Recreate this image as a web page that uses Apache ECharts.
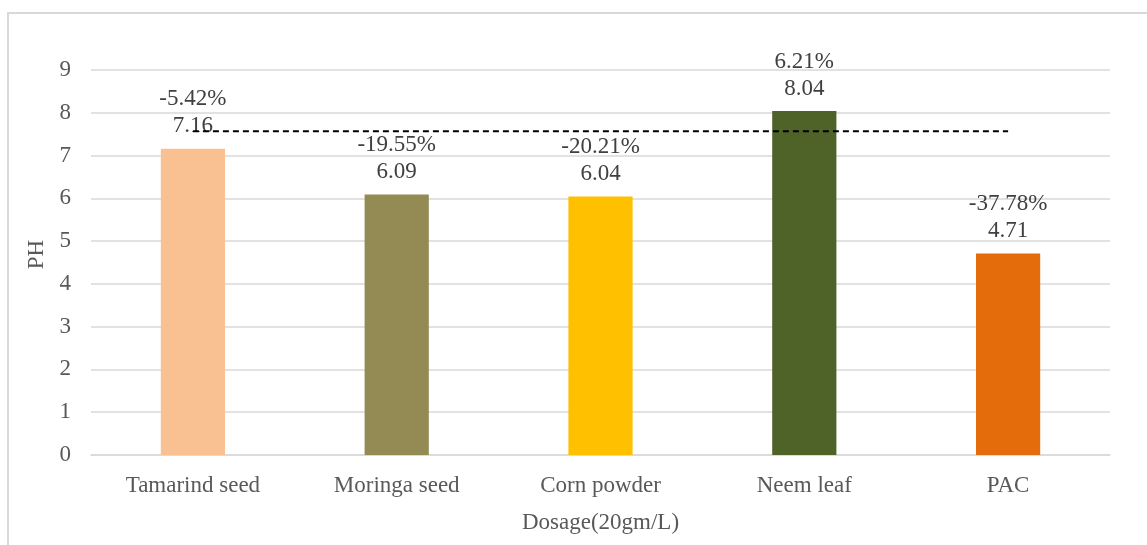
<!DOCTYPE html>
<html>
<head>
<meta charset="utf-8">
<script src="https://cdn.jsdelivr.net/npm/echarts@6/dist/echarts.min.js"></script>
<style>
  html, body { margin: 0; padding: 0; background: #ffffff; }
  #chart { width: 1147px; height: 545px; }
</style>
</head>
<body>
<div id="chart"></div>
<script>
// Coagulant types tested at a dosage of 20 gm/L
const categories = ['Tamarind seed', 'Moringa seed', 'Corn powder', 'Neem leaf', 'PAC'];
// Final pH after treatment
const phValues = [7.16, 6.09, 6.04, 8.04, 4.71];
// Change relative to the untreated water pH
const changePct = ['-5.42%', '-19.55%', '-20.21%', '6.21%', '-37.78%'];
// Initial (raw water) pH shown as the dashed reference
const initialPH = 7.57;
const barColors = ['#F9C191', '#948A54', '#FFC000', '#4F6228', '#E46C0A'];
const yTicks = { min: 0, max: 9, interval: 1 };

const font = 'Liberation Serif, Times New Roman, serif';
const chart = echarts.init(document.getElementById('chart'));

chart.setOption({
  backgroundColor: '#ffffff',
  animation: false,
  graphic: [{
    type: 'rect',
    shape: { x: 8, y: 13, width: 1200, height: 600 },
    style: { fill: 'none', stroke: '#d9d9d9', lineWidth: 2 },
    silent: true
  }],
  grid: { left: 91, right: 37, top: 70, bottom: 90 },
  xAxis: {
    type: 'category',
    data: categories,
    name: 'Dosage(20gm/L)',
    nameLocation: 'middle',
    nameGap: 56,
    nameTextStyle: { fontFamily: font, fontSize: 23, color: '#595959' },
    axisLine: { lineStyle: { color: '#d9d9d9', width: 1.5 } },
    axisTick: { show: false },
    axisLabel: { fontFamily: font, fontSize: 23, color: '#595959', margin: 19 }
  },
  yAxis: {
    type: 'value',
    min: yTicks.min,
    max: yTicks.max,
    interval: yTicks.interval,
    name: 'PH',
    nameLocation: 'middle',
    nameGap: 43,
    nameTextStyle: { fontFamily: font, fontSize: 23, color: '#595959', padding: [0, 0, 0, 16] },
    axisLine: { show: false },
    axisTick: { show: false },
    axisLabel: { fontFamily: font, fontSize: 23, color: '#595959', margin: 20 },
    splitLine: { lineStyle: { color: '#d9d9d9', width: 1.5 } }
  },
  series: [
    {
      type: 'bar',
      barWidth: '31.5%',
      data: phValues.map((v, i) => ({ value: v, itemStyle: { color: barColors[i] } })),
      label: {
        show: true,
        position: 'top',
        distance: 9,
        fontFamily: font,
        fontSize: 23,
        lineHeight: 27,
        color: '#404040',
        formatter: p => changePct[p.dataIndex] + '\n' + p.value.toFixed(2)
      },
      z: 2
    },
    {
      type: 'line',
      data: categories.map(() => initialPH),
      symbol: 'none',
      lineStyle: { color: '#000000', width: 2, type: [6, 4] },
      silent: true,
      z: 3
    }
  ]
});
</script>
</body>
</html>
